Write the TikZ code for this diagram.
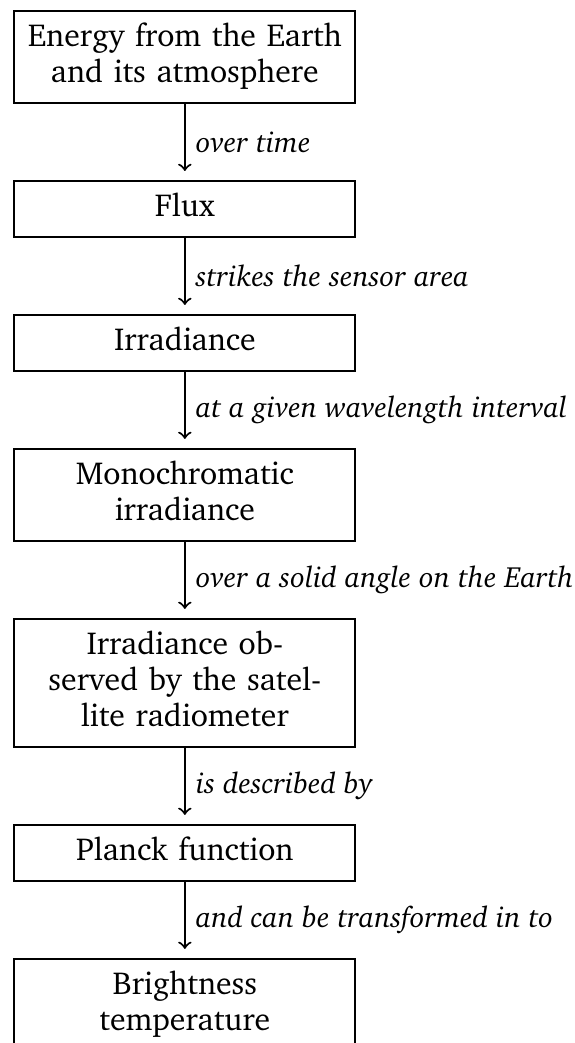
\documentclass[tikz,border=0pt]{standalone}
\usepackage[T1]{fontenc}
\usepackage{charter}
\usetikzlibrary{positioning}
\begin{document}
\begin{tikzpicture}[
  box/.style={draw, line width=0.7pt, text width=107pt, align=center, inner sep=3.33pt,
    font=\fontsize{10.6}{12}\selectfont,
    execute at begin node=\strut, execute at end node=\strut},
  lbl/.style={right, font=\fontsize{9.75}{12}\selectfont\itshape, inner sep=3.33pt},
  conn/.style={->, line width=0.7pt, shorten >=3pt},
  node distance=25.3pt
]
\useasboundingbox (0,0) rectangle (191.33pt,-347.67pt);
\node[box, anchor=north west] (n1) at (4.44pt,-3.33pt) {Energy from the Earth\\and its atmosphere};
\node[box, below=of n1] (n2) {Flux};
\node[box, below=of n2] (n3) {Irradiance};
\node[box, below=of n3] (n4) {Monochromatic\\irradiance};
\node[box, below=of n4] (n5) {Irradiance ob-\\served by the satel-\\lite radiometer};
\node[box, below=of n5] (n6) {Planck function};
\node[box, below=of n6] (n7) {Brightness\\temperature};
\draw[conn] (n1) -- node[lbl] {over time} (n2);
\draw[conn] (n2) -- node[lbl] {strikes the sensor area} (n3);
\draw[conn] (n3) -- node[lbl] {at a given wavelength interval} (n4);
\draw[conn] (n4) -- node[lbl] {over a solid angle on the Earth} (n5);
\draw[conn] (n5) -- node[lbl] {is described by} (n6);
\draw[conn] (n6) -- node[lbl] {and can be transformed in to} (n7);
\end{tikzpicture}
\end{document}
